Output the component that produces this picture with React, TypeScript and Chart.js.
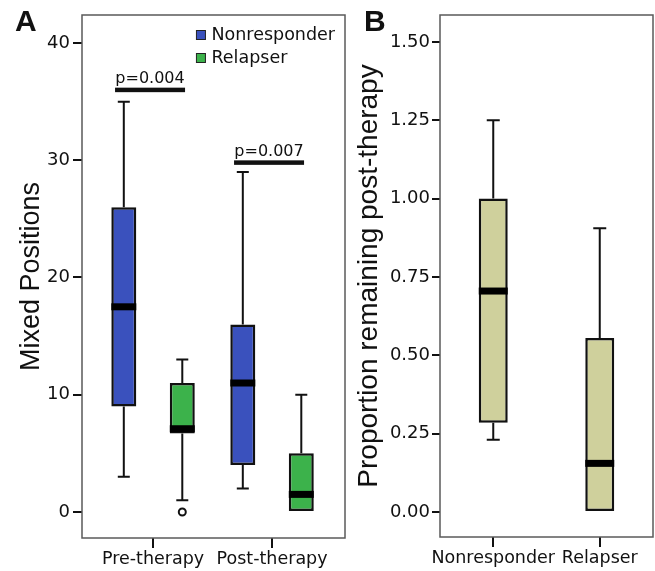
import React, { useEffect, useRef } from 'react';
import { Chart, registerables } from 'chart.js';

Chart.register(...registerables);

// ---------- Panel A data ----------
const groupLabels = ['Pre-therapy', 'Post-therapy'];
const groupPositions = [1, 2];
const seriesNames = ['Nonresponder', 'Relapser'];
const nonMin = [3, 2];
const nonQ1 = [9, 4];
const nonMedian = [17.5, 11];
const nonQ3 = [26, 16];
const nonMax = [35, 29];
const nonOutliers: number[][] = [[], []];
const relMin = [1, 0];
const relQ1 = [6.7, 0];
const relMedian = [7.1, 1.5];
const relQ3 = [11, 5];
const relMax = [13, 10];
const relOutliers: number[][] = [[0], []];
const pLabels = ['p=0.004', 'p=0.007'];
const pBarValues = [36, 29.8];
const yTicksA = [0, 10, 20, 30, 40];

// ---------- Panel B data ----------
const responseCats = ['Nonresponder', 'Relapser'];
const propMin = [0.23, 0];
const propQ1 = [0.285, 0];
const propMedian = [0.705, 0.155];
const propQ3 = [1.0, 0.555];
const propMax = [1.25, 0.905];
const propOutliers: number[][] = [[], []];
const yTicksB = [0, 0.25, 0.5, 0.75, 1, 1.25, 1.5];

// ---------- styles ----------
const H = 571;
const INK = '#111111';
const FRAME = '#5a5a5a';
const BLUE = '#3a51bd';
const GREEN = '#3cb24b';
const KHAKI = '#cfd09c';
const TICK_FONT = { family: '"DejaVu Sans"', size: 18 };
const XLABEL_FONT = { family: '"DejaVu Sans"', size: 17.5 };
const TITLE_FONT = { family: '"Liberation Sans"', size: 27 };

type Stats = { min: number[]; med: number[]; max: number[]; q1: number[]; q3: number[]; out: number[][] };

const makeBoxPlugin = (stats: Stats[], capHalf: number, medianH: number) => ({
  id: 'boxExtras',
  afterDatasetsDraw(chart: any) {
    const { ctx } = chart;
    const y = chart.scales.y;
    stats.forEach((st, di) => {
      const meta = chart.getDatasetMeta(di);
      meta.data.forEach((el: any, j: number) => {
        const { x, width } = el.getProps(['x', 'width'], true);
        const half = width / 2;
        const yMin = y.getPixelForValue(st.min[j]);
        const yMax = y.getPixelForValue(st.max[j]);
        const yQ1 = y.getPixelForValue(st.q1[j]);
        const yQ3 = y.getPixelForValue(st.q3[j]);
        const yMed = y.getPixelForValue(st.med[j]);
        ctx.save();
        ctx.strokeStyle = INK;
        ctx.lineWidth = 2;
        if (st.max[j] > st.q3[j]) {
          ctx.beginPath();
          ctx.moveTo(x, yQ3);
          ctx.lineTo(x, yMax);
          ctx.moveTo(x - capHalf, yMax);
          ctx.lineTo(x + capHalf, yMax);
          ctx.stroke();
        }
        if (st.min[j] < st.q1[j]) {
          ctx.beginPath();
          ctx.moveTo(x, yQ1);
          ctx.lineTo(x, yMin);
          ctx.moveTo(x - capHalf, yMin);
          ctx.lineTo(x + capHalf, yMin);
          ctx.stroke();
        }
        ctx.fillStyle = '#000';
        ctx.fillRect(x - half, yMed - medianH / 2, width, medianH);
        (st.out[j] || []).forEach((v) => {
          const oy = y.getPixelForValue(v);
          ctx.beginPath();
          ctx.arc(x, oy, 3.5, 0, Math.PI * 2);
          ctx.fillStyle = '#fff';
          ctx.fill();
          ctx.lineWidth = 2;
          ctx.stroke();
        });
        ctx.restore();
      });
    });
  },
});

const framePlugin = {
  id: 'frame',
  beforeDatasetsDraw(chart: any) {
    const { ctx, chartArea: a } = chart;
    ctx.save();
    ctx.strokeStyle = FRAME;
    ctx.lineWidth = 1.5;
    ctx.strokeRect(a.left, a.top, a.right - a.left, a.bottom - a.top);
    ctx.restore();
  },
};

const legendPlugin = {
  id: 'insideLegend',
  afterDraw(chart: any) {
    const { ctx, chartArea: a } = chart;
    ctx.save();
    ctx.font = '17.5px "DejaVu Sans"';
    const labels = chart.data.datasets.map((d: any) => d.label as string);
    const w = Math.max(...labels.map((l: string) => ctx.measureText(l).width));
    const tx = a.right - 10 - w;
    labels.forEach((l: string, i: number) => {
      const cy = a.top + 20 + i * 23;
      ctx.fillStyle = chart.data.datasets[i].backgroundColor;
      ctx.fillRect(tx - 15, cy - 4.5, 9, 9);
      ctx.strokeStyle = '#222';
      ctx.lineWidth = 1;
      ctx.strokeRect(tx - 15, cy - 4.5, 9, 9);
      ctx.fillStyle = INK;
      ctx.textAlign = 'left';
      ctx.textBaseline = 'middle';
      ctx.fillText(l, tx, cy + 0.5);
    });
    ctx.restore();
  },
};

const pValuePlugin = {
  id: 'pValues',
  afterDatasetsDraw(chart: any) {
    const { ctx } = chart;
    const { x, y } = chart.scales;
    ctx.save();
    pLabels.forEach((label, i) => {
      const cx = x.getPixelForValue(groupPositions[i]) - 3;
      const py = y.getPixelForValue(pBarValues[i]);
      ctx.fillStyle = INK;
      ctx.fillRect(cx - 35, py - 2.25, 70, 4.5);
      ctx.font = '16px "DejaVu Sans"';
      ctx.textAlign = 'center';
      ctx.textBaseline = 'alphabetic';
      ctx.fillText(label, cx, py - 7);
    });
    ctx.restore();
  },
};

const configA = (): any => ({
  type: 'bar',
  data: {
    datasets: [
      {
        label: seriesNames[0],
        data: groupPositions.map((x, i) => ({ x, y: [nonQ1[i], nonQ3[i]] })),
        backgroundColor: BLUE,
        borderColor: INK,
        borderWidth: 2.5,
        borderSkipped: false,
        barPercentage: 0.427,
        categoryPercentage: 0.983,
      },
      {
        label: seriesNames[1],
        data: groupPositions.map((x, i) => ({ x, y: [relQ1[i], relQ3[i]] })),
        backgroundColor: GREEN,
        borderColor: INK,
        borderWidth: 2.5,
        borderSkipped: false,
        barPercentage: 0.427,
        categoryPercentage: 0.983,
      },
    ],
  },
  options: {
    responsive: false,
    animation: false,
    events: [],
    layout: { padding: { left: 0, right: 5, top: 15, bottom: 0 } },
    plugins: { legend: { display: false }, tooltip: { enabled: false } },
    scales: {
      x: {
        type: 'linear',
        min: 0.403,
        max: 2.613,
        bounds: 'data',
        offset: false,
        afterBuildTicks: (s: any) => {
          s.ticks = groupPositions.map((v) => ({ value: v }));
        },
        afterFit: (s: any) => {
          s.height = 33;
        },
        grid: { offset: false, drawOnChartArea: false, drawTicks: true, tickLength: 10, color: INK, lineWidth: 2 },
        border: { display: false },
        ticks: {
          callback: (_v: any, i: number) => groupLabels[i],
          font: XLABEL_FONT,
          color: INK,
          padding: 1,
          maxRotation: 0,
          autoSkip: false,
        },
      },
      y: {
        type: 'linear',
        min: -2.22,
        max: 42.39,
        bounds: 'data',
        afterBuildTicks: (s: any) => {
          s.ticks = yTicksA.map((v) => ({ value: v }));
        },
        afterFit: (s: any) => {
          s.width = 82;
        },
        grid: { drawOnChartArea: false, drawTicks: true, tickLength: 9, color: INK, lineWidth: 2 },
        border: { display: false },
        ticks: { font: TICK_FONT, color: INK, padding: 3 },
        title: {
          display: true,
          text: 'Mixed Positions',
          font: TITLE_FONT,
          color: INK,
          padding: { top: 15, bottom: 0 },
        },
      },
    },
  },
  plugins: [
    framePlugin,
    makeBoxPlugin(
      [
        { min: nonMin, q1: nonQ1, med: nonMedian, q3: nonQ3, max: nonMax, out: nonOutliers },
        { min: relMin, q1: relQ1, med: relMedian, q3: relQ3, max: relMax, out: relOutliers },
      ],
      6,
      7
    ),
    pValuePlugin,
    legendPlugin,
  ],
});

const configB = (): any => ({
  type: 'bar',
  data: {
    labels: responseCats,
    datasets: [
      {
        label: 'Proportion',
        data: responseCats.map((_c, i) => [propQ1[i], propQ3[i]]),
        backgroundColor: KHAKI,
        borderColor: INK,
        borderWidth: 2.5,
        borderSkipped: false,
        barPercentage: 0.272,
        categoryPercentage: 1,
      },
    ],
  },
  options: {
    responsive: false,
    animation: false,
    events: [],
    layout: { padding: { left: 0, right: 2, top: 15, bottom: 0 } },
    plugins: { legend: { display: false }, tooltip: { enabled: false } },
    scales: {
      x: {
        type: 'category',
        offset: true,
        afterFit: (s: any) => {
          s.height = 34;
        },
        grid: { offset: false, drawOnChartArea: false, drawTicks: true, tickLength: 10, color: INK, lineWidth: 2 },
        border: { display: false },
        ticks: { font: XLABEL_FONT, color: INK, padding: 1, maxRotation: 0, autoSkip: false },
      },
      y: {
        type: 'linear',
        min: -0.08,
        max: 1.586,
        bounds: 'data',
        afterBuildTicks: (s: any) => {
          s.ticks = yTicksB.map((v) => ({ value: v }));
        },
        afterFit: (s: any) => {
          s.width = 95;
        },
        grid: { drawOnChartArea: false, drawTicks: true, tickLength: 8, color: INK, lineWidth: 2 },
        border: { display: false },
        ticks: { font: TICK_FONT, color: INK, padding: 2, callback: (v: any) => Number(v).toFixed(2) },
        title: {
          display: true,
          text: 'Proportion remaining post-therapy',
          font: { family: '"Liberation Sans"', size: 28 },
          color: INK,
          padding: { top: 7, bottom: 0 },
        },
      },
    },
  },
  plugins: [
    framePlugin,
    makeBoxPlugin([{ min: propMin, q1: propQ1, med: propMedian, q3: propQ3, max: propMax, out: propOutliers }], 6.5, 7),
  ],
});

function ChartCanvas({ left, width, config }: { left: number; width: number; config: () => any }) {
  const ref = useRef<HTMLCanvasElement>(null);
  useEffect(() => {
    const chart = new Chart(ref.current as HTMLCanvasElement, config());
    return () => chart.destroy();
  }, []);
  return (
    <canvas
      ref={ref}
      width={width}
      height={H}
      style={{ position: 'absolute', left, top: 0, width, height: H, display: 'block' }}
    />
  );
}

const panelLetter: React.CSSProperties = {
  position: 'absolute',
  top: 6,
  fontFamily: '"Liberation Sans", Arial, sans-serif',
  fontWeight: 'bold',
  fontSize: 30,
  lineHeight: '30px',
  color: '#111',
};

export default function App() {
  return (
    <div style={{ position: 'fixed', left: 0, top: 0, width: 655, height: H, background: '#fff', overflow: 'hidden' }}>
      <ChartCanvas left={0} width={350} config={configA} />
      <ChartCanvas left={345} width={310} config={configB} />
      <div style={{ ...panelLetter, left: 15 }}>A</div>
      <div style={{ ...panelLetter, left: 364 }}>B</div>
    </div>
  );
}
